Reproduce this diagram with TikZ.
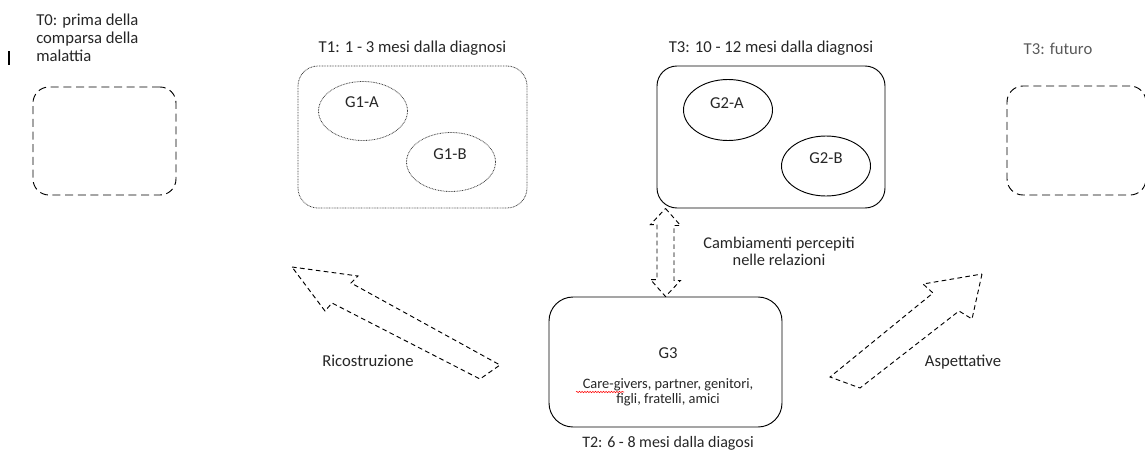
\documentclass[tikz,border=0pt]{standalone}
\usepackage{fontspec}
\setmainfont{Carlito}
\usetikzlibrary{shapes.geometric,calc,decorations.pathmorphing}
\tikzset{dashbox/.style={draw,line width=0.7pt,dash pattern=on 6pt off 3.5pt,rounded corners=12pt}}
\tikzset{dotbox/.style={draw,black!75,line width=0.6pt,dash pattern=on 0.6pt off 0.6pt}}
\tikzset{bigarrow/.style={draw,line width=0.7pt,dash pattern=on 3.5pt off 2.5pt}}

\begin{document}
\begin{tikzpicture}[x=0.75pt,y=-0.75pt,font=\fontsize{12.5}{13.5}\selectfont,text=black!85]
\useasboundingbox (0,0) rectangle (1145,450);
% \draw[help lines] (0,0) grid (1145,450);
\node (t0lab) [align=left,anchor=west,inner sep=0pt] at (36,38) {T0: prima della\\comparsa della\\malattia};
\node (t0box) [dashbox,minimum width=107.25pt,minimum height=81pt] at (104.5,141) {};
\draw[line width=1.4pt] (9,51) -- (9,65);
%
\node (t1lab) at (412.5,48) {T1: 1 - 3 mesi dalla diagnosi};
\node (t1box) [dotbox,rounded corners=15pt,minimum width=171.75pt,minimum height=106.5pt] at (412.5,137) {};
\node (g1a) [dotbox,ellipse,inner sep=0pt,minimum width=66.75pt,minimum height=44.25pt] at (363,111) {};
\node (g1b) [dotbox,ellipse,inner sep=0pt,minimum width=66.75pt,minimum height=44.25pt] at (451,162) {};
\node (g1alab) at (362,102) {G1-A};
\node (g1blab) at (450,154) {G1-B};
%
\node (t3lab) at (771,48) {T3: 10 - 12 mesi dalla diagnosi};
\node (t3box) [draw,line width=0.7pt,rounded corners=15pt,minimum width=171pt,minimum height=106.5pt] at (771,137) {};
\node (g2a) [draw,line width=0.7pt,ellipse,inner sep=0pt,minimum width=66.75pt,minimum height=45.75pt] at (728,110) {};
\node (g2b) [draw,line width=0.7pt,ellipse,inner sep=0pt,minimum width=66.75pt,minimum height=45pt] at (826,166) {};
\node (g2alab) at (727,103) {G2-A};
\node (g2blab) at (826,158) {G2-B};
%
\node (t4lab) [text=black!65] at (1058,49) {T3: futuro};
\node (t4box) [dashbox,minimum width=104.25pt,minimum height=81.75pt] at (1076.5,140.5) {};
%
\node (g3) [draw,line width=0.7pt,rounded corners=18pt,minimum width=174.75pt,minimum height=97.5pt] at (665.5,362) {};
\node (g3lab) at (668,353) {G3};
\node (g3txt) [align=center,font=\fontsize{10.8}{11.5}\selectfont] at (668,392.5) {Care-givers, partner, genitori,\\figli, fratelli, amici};
\draw[red,line width=0.4pt,decorate,decoration={snake,amplitude=0.5pt,segment length=2pt}] (576,392) -- (624,392);
\node (t2lab) [font=\fontsize{12}{13}\selectfont] at (668,443) {T2: 6 - 8 mesi dalla diagosi};
%
\coordinate (dtop) at (g3.north |- t3box.south);
\draw[bigarrow] (dtop) -- ++(15,17) -- ++(-6.5,0) -- ++(0,55) -- ++(6.5,0) -- (g3.north)
  -- ++(-15,-17) -- ++(6.5,0) -- ++(0,-55) -- ++(-6.5,0) -- cycle;
\node (rel) [align=center,font=\fontsize{12.3}{12.75}\selectfont] at (779,251.5) {Cambiamenti percepiti\\nelle relazioni};
%
\draw[bigarrow] (292,267) -- (358,276) -- (351,283) -- (500,365) -- (480,379) -- (332,303) -- (325,311) -- cycle;
\node (ric) at (368,361) {Ricostruzione};
\draw[bigarrow] (982,274) -- (972,319) -- (959,311) -- (860,388) -- (830,377) -- (933,293) -- (923,284) -- cycle;
\node (asp) at (963,362) {Aspettative};
\end{tikzpicture}
\end{document}
